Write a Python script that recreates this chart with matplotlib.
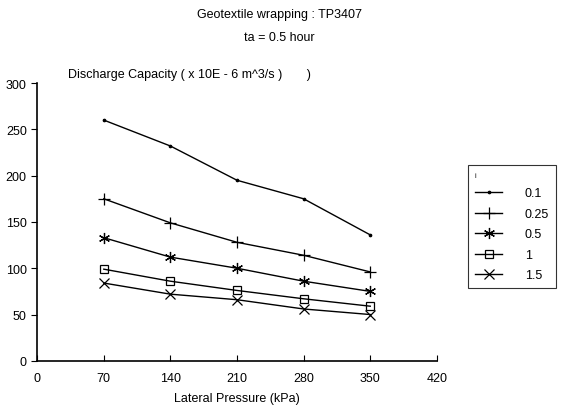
import matplotlib.pyplot as plt

plt.rcParams['font.family'] = ['Liberation Sans', 'DejaVu Sans']

# data
pressure = [70, 140, 210, 280, 350]
labels = ['0.1', '0.25', '0.5', '1', '1.5']
q_01 = [260, 232, 195, 175, 136]
q_025 = [175, 149, 128, 114, 96]
q_05 = [133, 112, 100, 86, 75]
q_1 = [99, 86, 76, 67, 59]
q_15 = [84, 72, 66, 56, 50]

series = [q_01, q_025, q_05, q_1, q_15]
markers = ['.', '+', (6, 2, 0), 's', 'x']
msizes = [3.5, 8, 8, 6, 7]

fig = plt.figure(figsize=(5.63, 4.14), dpi=100)
ax = fig.add_axes([0.066, 0.126, 0.71, 0.671])

for vals, lab, m, ms in zip(series, labels, markers, msizes):
    ax.plot(pressure, vals, color='black', lw=1.0, marker=m, ms=ms,
            mfc='none' if m == 's' else 'black', mec='black', mew=0.9, label=lab)

ax.set_xlim(0, 420)
ax.set_ylim(0, 300)
ax.set_xticks([0, 70, 140, 210, 280, 350, 420])
ax.set_yticks([0, 50, 100, 150, 200, 250, 300])
ax.spines['top'].set_visible(False)
ax.spines['right'].set_visible(False)
ax.spines['left'].set_linewidth(1.2)
ax.spines['bottom'].set_linewidth(1.2)
ax.tick_params(axis='x', direction='in', length=4, labelsize=9, pad=8)
ax.tick_params(axis='y', direction='out', length=4, labelsize=9)
ax.set_xlabel('Lateral Pressure (kPa)', fontsize=9, labelpad=6)

fig.text(0.497, 0.963, 'Geotextile wrapping : TP3407', ha='center', va='center', fontsize=9)
fig.text(0.497, 0.908, 'ta = 0.5 hour', ha='center', va='center', fontsize=9)
fig.text(0.121, 0.82, 'Discharge Capacity ( x 10E - 6 m^3/s )       )', ha='left', va='center', fontsize=9)

leg = ax.legend(loc='upper left', bbox_to_anchor=(0.82, 0.614), bbox_transform=fig.transFigure,
                frameon=True, fancybox=False, edgecolor='black', fontsize=9,
                handlelength=2.2, handletextpad=1.8, labelspacing=0.68, borderpad=0.55,
                title='i', title_fontproperties={'size': 5})
leg._legend_box.align = 'left'
leg.get_frame().set_linewidth(0.8)

fig.savefig('out.png', dpi=100)
